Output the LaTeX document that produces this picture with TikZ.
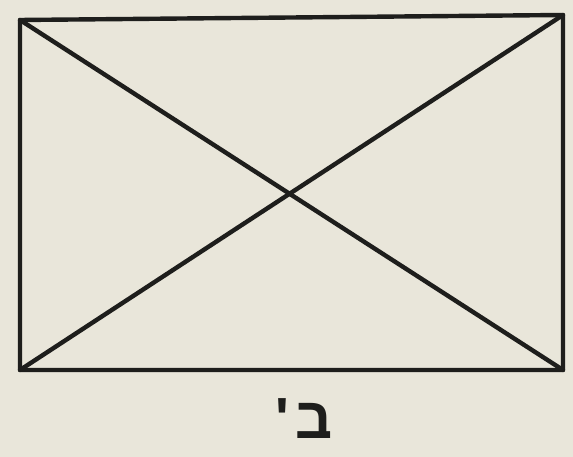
\documentclass[tikz,border=0pt]{standalone}
\usepackage{fontspec}
\newfontfamily\hebfont[Script=Hebrew]{Liberation Sans}
\TeXXeTstate=1
\definecolor{paper}{HTML}{E9E6DA}
\definecolor{ink}{HTML}{1E1E1C}
\begin{document}
\begin{tikzpicture}[x=1pt,y=1pt,
  edge/.style={draw=ink,line width=4.4pt,line cap=round,line join=round}]
\fill[paper] (0,0) rectangle (573,457);
\useasboundingbox (0,0) rectangle (573,457);
\coordinate (tl) at (20,437);
\coordinate (tr) at (563,442);
\coordinate (br) at (563,87);
\coordinate (bl) at (20,87);
\draw[edge] (tl) -- (tr) -- (br) -- (bl) -- cycle;
\draw[edge] (tl) -- (br);
\draw[edge] (bl) -- (tr);
\node[text=ink,font=\hebfont\bfseries\fontsize{58}{64}\selectfont,inner sep=0pt] (lbl) at (304,38) {\beginR ב\kern6pt'\endR};
\end{tikzpicture}
\end{document}
